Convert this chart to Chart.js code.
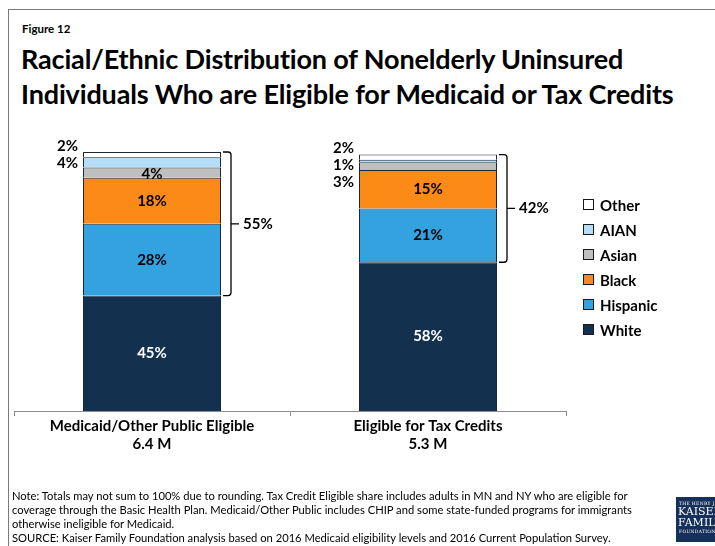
<!DOCTYPE html>
<html>
<head>
<meta charset="utf-8">
<script src="https://cdn.jsdelivr.net/npm/chart.js@4/dist/chart.umd.min.js"></script>
<style>
  html, body { margin: 0; padding: 0; background: #fff; }
  body { width: 715px; height: 546px; position: relative; overflow: hidden; font-family: Lato, "Open Sans", sans-serif; color: #000; }
  #frame { position: absolute; left: 8px; top: 9px; width: 720px; height: 560px; border-left: 1px solid #7a7a7a; border-top: 1px solid #7a7a7a; }
  #fig { position: absolute; left: 22px; top: 22px; font-size: 11.5px; font-weight: bold; }
  #title { position: absolute; left: 21px; top: 41px; font-size: 27px; font-weight: bold; line-height: 35px; letter-spacing: -0.15px; }
  #chartWrap { position: absolute; left: 0; top: 0; width: 715px; height: 546px; }
  #legend { position: absolute; left: 583px; top: 192px; }
  .lg { display: flex; align-items: center; height: 25px; font-size: 15px; font-weight: bold; }
  .lg span.box { width: 9px; height: 9px; border: 1px solid #1a1a1a; margin-right: 6px; box-sizing: content-box; }
  #notes { position: absolute; left: 12px; top: 489px; font-size: 11.2px; line-height: 14px; width: 660px; }
  #logo { position: absolute; left: 676px; top: 497px; width: 45px; height: 45px; background: #15305a; color: #fff; font-family: "DejaVu Serif", "Liberation Serif", serif; overflow: hidden; }
  #logo div { white-space: nowrap; }
</style>
</head>
<body>
<div id="frame"></div>
<div id="fig">Figure 12</div>
<div id="title">Racial/Ethnic Distribution of Nonelderly Uninsured<br>Individuals Who are Eligible for Medicaid or Tax Credits</div>
<div id="chartWrap"><canvas id="c" width="715" height="546"></canvas></div>
<div id="legend"></div>
<div id="notes">Note: Totals may not sum to 100% due to rounding. Tax Credit Eligible share includes adults in MN and NY who are eligible for<br>coverage through the Basic Health Plan. Medicaid/Other Public includes CHIP and some state-funded programs for immigrants<br>otherwise ineligible for Medicaid.<br>SOURCE: Kaiser Family Foundation analysis based on 2016 Medicaid eligibility levels and 2016 Current Population Survey.</div>
<div id="logo">
  <div style="font-size:4.5px;margin:4px 0 0 3px;letter-spacing:0.3px">THE HENRY J.</div>
  <div style="font-size:11px;line-height:11px;margin-left:2px">KAISER</div>
  <div style="font-size:11px;line-height:11px;margin-left:2px">FAMILY</div>
  <div style="font-size:4.5px;margin:1px 0 0 3px;letter-spacing:0.3px">FOUNDATION</div>
</div>
<script>
// Categories (two-line tick labels) and series values, in percent
const categories = [['Medicaid/Other Public Eligible', '6.4 M'], ['Eligible for Tax Credits', '5.3 M']];
const seriesNames = ['White', 'Hispanic', 'Black', 'Asian', 'AIAN', 'Other'];
const white    = [45, 58];
const hispanic = [28, 21];
const black    = [18, 15];
const asian    = [4, 3];
const aian     = [4, 1];
const other    = [2, 2];
const nonWhiteShare = [55, 42];

const seriesValues = [white, hispanic, black, asian, aian, other];
const seriesColors = ['#13304f', '#35a2e0', '#fb8a17', '#bfbfbf', '#b4dff6', '#ffffff'];
const labelColors  = ['#ffffff', '#000000', '#000000', '#000000', '#000000', '#000000'];
const labelFont = 'bold 15px Lato, "Open Sans", sans-serif';

// HTML legend, top to bottom in reverse stacking order
const legendEl = document.getElementById('legend');
for (let i = seriesNames.length - 1; i >= 0; i--) {
  const row = document.createElement('div');
  row.className = 'lg';
  row.innerHTML = '<span class="box" style="background:' + seriesColors[i] + '"></span>' + seriesNames[i];
  legendEl.appendChild(row);
}

const datasets = seriesNames.map((name, i) => ({
  label: name,
  data: seriesValues[i],
  backgroundColor: seriesColors[i],
  borderColor: '#1c2636',
  borderWidth: 1,
  categoryPercentage: 1,
  barPercentage: 0.5
}));

// Segment labels: large segments inside, thin top segments listed left of the bar
const segmentLabels = {
  id: 'segmentLabels',
  afterDatasetsDraw(chart) {
    const ctx = chart.ctx;
    ctx.save();
    ctx.font = labelFont;
    ctx.textBaseline = 'middle';
    const yScale = chart.scales.y;
    categories.forEach((cat, j) => {
      let total = 0;
      seriesValues.forEach(v => total += v[j]);
      const outside = [];
      seriesValues.forEach((vals, i) => {
        const el = chart.getDatasetMeta(i).data[j];
        const v = vals[j];
        const isOut = (seriesNames[i] === 'Other' || seriesNames[i] === 'AIAN' || v < 4);
        if (isOut) {
          outside.push({ text: v + '%', el });
        } else {
          ctx.fillStyle = labelColors[i];
          ctx.textAlign = 'center';
          const yc = (el.y + el.base) / 2 + (seriesNames[i] === 'Asian' ? 2 : 0);
          ctx.fillText(v + '%', el.x, yc);
        }
      });
      // outside labels, from the top of the bar downward
      const topY = yScale.getPixelForValue(total);
      outside.reverse().forEach((o, k) => {
        ctx.fillStyle = '#000';
        ctx.textAlign = 'right';
        ctx.fillText(o.text, o.el.x - o.el.width / 2 - 5, topY - 6 + k * 17);
      });
    });
    ctx.restore();
  }
};

// Bracket spanning all non-White groups with its share label
const brackets = {
  id: 'brackets',
  afterDatasetsDraw(chart) {
    const ctx = chart.ctx;
    const yScale = chart.scales.y;
    ctx.save();
    ctx.strokeStyle = '#000';
    ctx.lineWidth = 1.3;
    categories.forEach((cat, j) => {
      let total = 0;
      seriesValues.forEach(v => total += v[j]);
      const el = chart.getDatasetMeta(0).data[j];
      const xr = el.x + el.width / 2;
      const yTop = yScale.getPixelForValue(total);
      const yBot = yScale.getPixelForValue(white[j]);
      const xv = xr + 10;
      const mid = (yTop + yBot) / 2;
      ctx.beginPath();
      ctx.moveTo(xr + 2, yTop);
      ctx.lineTo(xv - 3, yTop);
      ctx.quadraticCurveTo(xv, yTop, xv, yTop + 3);
      ctx.lineTo(xv, yBot - 3);
      ctx.quadraticCurveTo(xv, yBot, xv - 3, yBot);
      ctx.lineTo(xr + 2, yBot);
      ctx.moveTo(xv, mid);
      ctx.lineTo(xv + 8, mid);
      ctx.stroke();
      ctx.fillStyle = '#000';
      ctx.font = labelFont;
      ctx.textAlign = 'left';
      ctx.textBaseline = 'middle';
      ctx.fillText(nonWhiteShare[j] + '%', xv + 12, mid);
    });
    ctx.restore();
  }
};

new Chart(document.getElementById('c'), {
  type: 'bar',
  data: { labels: categories, datasets },
  options: {
    responsive: false,
    animation: false,
    layout: { padding: { left: 14, right: 149, top: 152, bottom: 0 } },
    plugins: { legend: { display: false }, tooltip: { enabled: false } },
    scales: {
      x: {
        stacked: true,
        offset: true,
        grid: { display: true, drawOnChartArea: false, drawTicks: true, tickLength: 5, color: '#8c8c8c', offset: true },
        border: { display: true, color: '#8c8c8c', width: 1 },
        ticks: { color: '#000', padding: 1, font: { family: 'Lato, "Open Sans", sans-serif', size: 15, weight: 'bold', lineHeight: 1.2 } },
        afterFit(scale) { scale.height = 135; }
      },
      y: { stacked: true, display: false, min: 0, max: 101 }
    }
  },
  plugins: [segmentLabels, brackets]
});
</script>
</body>
</html>
